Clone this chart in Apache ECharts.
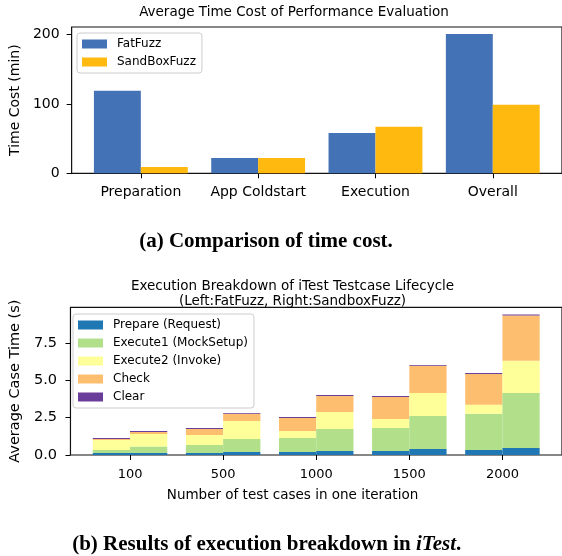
<!DOCTYPE html>
<html><head><meta charset="utf-8">
<script src="https://cdn.jsdelivr.net/npm/echarts@6.0.0/dist/echarts.min.js"></script>
<style>html,body{margin:0;padding:0;background:#fff}#c{width:562px;height:556px}</style>
</head><body><div id="c"></div>
<script>
// ---- Chart (a) data ----
const stageCategories = ['Preparation', 'App Coldstart', 'Execution', 'Overall'];
const fatFuzzMinutes = [119, 22, 58, 201];
const sandBoxFuzzMinutes = [9, 22, 67, 99];
const costTicks = [0, 100, 200];

// ---- Chart (b) data ----
const caseCountLabels = ['100', '500', '1000', '1500', '2000'];
const phaseNames = ['Prepare (Request)', 'Execute1 (MockSetup)', 'Execute2 (Invoke)', 'Check', 'Clear'];
const fatPrepare  = [0.13, 0.13, 0.20, 0.27, 0.33];
const fatExecute1 = [0.20, 0.54, 0.94, 1.54, 2.42];
const fatExecute2 = [0.67, 0.67, 0.47, 0.60, 0.60];
const fatCheck    = [0.07, 0.40, 0.87, 1.47, 2.07];
const fatClear    = [0.06, 0.06, 0.06, 0.06, 0.06];
const sandPrepare  = [0.13, 0.20, 0.27, 0.40, 0.47];
const sandExecute1 = [0.43, 0.87, 1.47, 2.21, 3.68];
const sandExecute2 = [0.85, 1.21, 1.14, 1.54, 2.14];
const sandCheck    = [0.13, 0.47, 1.07, 1.81, 3.04];
const sandClear    = [0.06, 0.06, 0.06, 0.06, 0.06];
const caseTimeTicks = [0, 2.5, 5, 7.5];

const phaseColors = ['#1f78b4', '#b2df8a', '#ffff99', '#fdbf6f', '#6a3d9a'];
const fatPhases = [fatPrepare, fatExecute1, fatExecute2, fatCheck, fatClear];
const sandPhases = [sandPrepare, sandExecute1, sandExecute2, sandCheck, sandClear];

const FONT = 'DejaVu Sans';
const chart = echarts.init(document.getElementById('c'), null, {renderer: 'canvas'});

// value first, position second (encode maps them), so stacking is applied on the value
const idx = arr => arr.map((v, i) => [v, i]);
const enc = {x: 1, y: 0};

const series = [
  {name: 'FatFuzz', type: 'bar', xAxisIndex: 0, yAxisIndex: 0, barWidth: '40%', barGap: '0%', encode: enc,
   itemStyle: {color: '#4472B6'}, data: idx(fatFuzzMinutes)},
  {name: 'SandBoxFuzz', type: 'bar', xAxisIndex: 0, yAxisIndex: 0, barWidth: '40%', barGap: '0%', encode: enc,
   itemStyle: {color: '#FFB90F'}, data: idx(sandBoxFuzzMinutes)}
];
phaseNames.forEach((n, k) => series.push({
  name: n, type: 'bar', stack: 'fat', xAxisIndex: 1, yAxisIndex: 1, barWidth: '40%', barGap: '0%', encode: enc,
  itemStyle: {color: phaseColors[k]}, data: idx(fatPhases[k])
}));
phaseNames.forEach((n, k) => series.push({
  name: n, type: 'bar', stack: 'sand', xAxisIndex: 1, yAxisIndex: 1, barWidth: '40%', barGap: '0%', encode: enc,
  itemStyle: {color: phaseColors[k]}, data: idx(sandPhases[k])
}));

const titleBase = {textAlign: 'center', textVerticalAlign: 'top', padding: 0};
const plainText = (size, lh) => ({fontFamily: FONT, fontWeight: 'normal', fontSize: size, lineHeight: lh, color: '#000'});
const capText = {fontFamily: 'Liberation Serif', fontWeight: 'bold', fontSize: 21, lineHeight: 23, color: '#000',
  rich: {i: {fontFamily: 'Liberation Serif', fontWeight: 'bold', fontStyle: 'italic', fontSize: 21, lineHeight: 23, color: '#000'}}};

const legendBase = {
  orient: 'vertical', icon: 'rect', itemWidth: 25, itemHeight: 9, itemGap: 4,
  padding: [4, 6, 4, 5], borderColor: '#cccccc', borderWidth: 1, borderRadius: 3,
  backgroundColor: 'rgba(255,255,255,0.8)', selectedMode: false,
  textStyle: {fontFamily: FONT, fontSize: 12, lineHeight: 14, color: '#000', padding: [0, 0, 0, 5]}
};

const axisLbl = (size, margin, vals, fmt) => ({
  fontFamily: FONT, fontSize: size, color: '#000', margin: margin, customValues: vals, formatter: fmt
});
const tick = vals => ({show: true, length: 5, lineStyle: {color: '#000', width: 1}, customValues: vals});
const noLine = {show: false, onZero: false};

chart.setOption({
  animation: false,
  textStyle: {fontFamily: FONT},
  title: [
    Object.assign({text: 'Average Time Cost of Performance Evaluation', left: 294, top: 4.5, textStyle: plainText(13.5, 15)}, titleBase),
    Object.assign({text: '(a) Comparison of time cost.', left: 266, top: 230, textStyle: capText}, titleBase),
    Object.assign({text: 'Execution Breakdown of iTest Testcase Lifecycle\n(Left:FatFuzz, Right:SandboxFuzz)', left: 292.5, top: 279, textStyle: plainText(13.5, 15.3)}, titleBase),
    Object.assign({text: 'Number of test cases in one iteration', left: 292.5, top: 488, textStyle: plainText(13.5, 15)}, titleBase),
    Object.assign({text: '(b) Results of execution breakdown in {i|iTest}.', left: 266.7, top: 533, textStyle: capText}, titleBase)
  ],
  legend: [
    Object.assign({}, legendBase, {left: 77, top: 33, data: ['FatFuzz', 'SandBoxFuzz']}),
    Object.assign({}, legendBase, {left: 73, top: 314, data: phaseNames})
  ],
  grid: [
    {left: 71, top: 27, width: 492, height: 146.3, show: true, borderColor: '#111', borderWidth: 1.2, backgroundColor: 'transparent'},
    {left: 68, top: 307.3, width: 495, height: 147.7, show: true, borderColor: '#111', borderWidth: 1.2, backgroundColor: 'transparent'}
  ],
  xAxis: [
    {type: 'value', gridIndex: 0, min: -0.59, max: 3.59, splitLine: {show: false}, axisLine: noLine,
     axisTick: tick([0, 1, 2, 3]),
     axisLabel: axisLbl(14, 12.5, [0, 1, 2, 3], v => stageCategories[Math.round(v)] || '')},
    {type: 'value', gridIndex: 1, min: -0.64, max: 4.64, splitLine: {show: false}, axisLine: noLine,
     axisTick: tick([0, 1, 2, 3, 4]),
     axisLabel: axisLbl(13, 13.5, [0, 1, 2, 3, 4], v => caseCountLabels[Math.round(v)] || '')}
  ],
  yAxis: [
    {type: 'value', gridIndex: 0, min: 0, max: 211, splitLine: {show: false}, axisLine: noLine,
     axisTick: tick(costTicks), axisLabel: axisLbl(14, 12, costTicks, v => String(v)),
     name: 'Time Cost (min)', nameLocation: 'middle', nameGap: 46,
     nameTextStyle: {fontFamily: FONT, fontSize: 14, color: '#000'}},
    {type: 'value', gridIndex: 1, min: 0, max: 9.87, splitLine: {show: false}, axisLine: noLine,
     axisTick: tick(caseTimeTicks), axisLabel: axisLbl(14.5, 13.5, caseTimeTicks, v => v.toFixed(1)),
     name: 'Average Case Time (s)', nameLocation: 'middle', nameGap: 42,
     nameTextStyle: {fontFamily: FONT, fontSize: 14.5, color: '#000'}}
  ],
  series: series
});
</script></body></html>
